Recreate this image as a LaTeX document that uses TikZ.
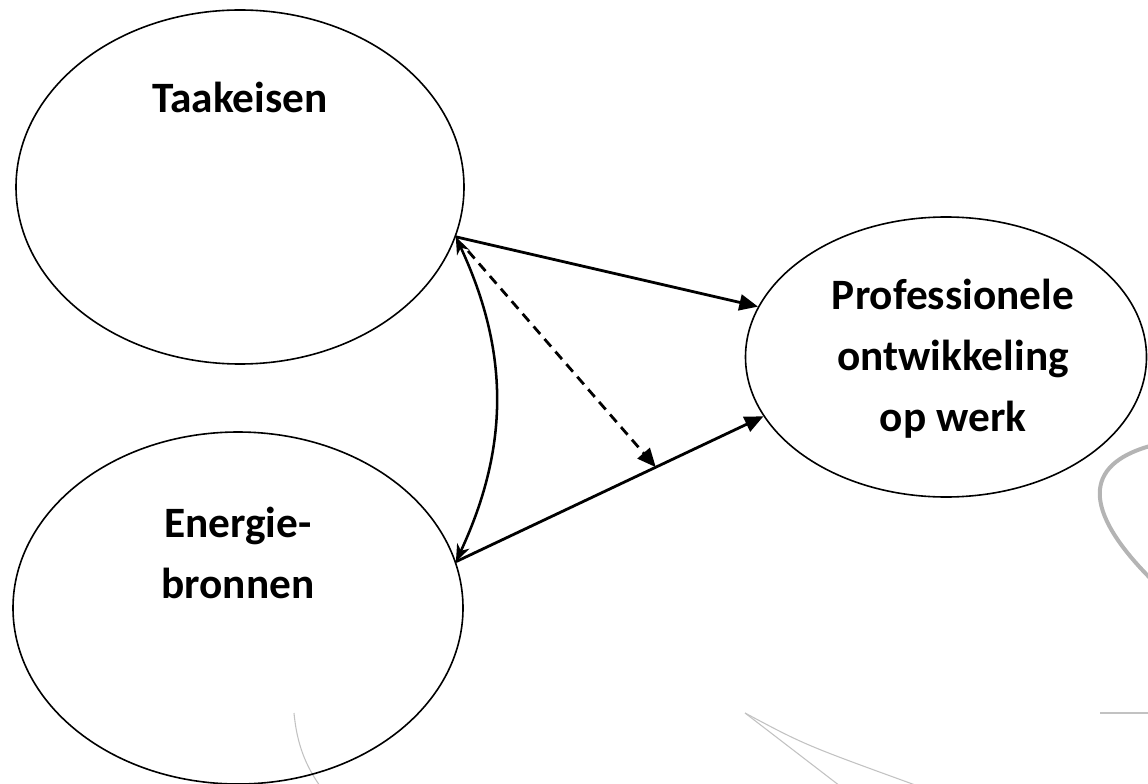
\documentclass[tikz,border=0pt]{standalone}
\usepackage{fontspec}
\setmainfont{Carlito}
\usepackage{xcolor}
\usepackage{tikz}
\usetikzlibrary{calc,arrows.meta,shapes.geometric}
\definecolor{ink}{HTML}{000000}
\definecolor{ghost}{HTML}{B4B4B4}
\definecolor{ghostthin}{HTML}{C2C2C2}
\tikzset{
  blob/.style={ellipse, draw=ink, line width=1.2pt, inner sep=0pt},
  lab/.style={text=ink, font=\fontsize{32.5}{45.5}\selectfont\bfseries, align=center, inner sep=0pt},
  effect/.style={draw=ink, line width=2.1pt, -{Triangle[length=14pt,width=12pt]}},
  mod/.style={effect, dash pattern=on 7.5pt off 5pt},
  cov/.style={draw=ink, line width=1.9pt, {Stealth[length=13pt,width=10pt,inset=4pt]}-{Stealth[length=13pt,width=10pt,inset=4pt]}},
  wm/.style={draw=ghost, line width=3pt},
  wmthin/.style={draw=ghostthin, line width=0.8pt},
}

\begin{document}
\begin{tikzpicture}[x=0.75pt,y=-0.75pt]
\useasboundingbox (0,0) rectangle (1148,784);
\draw[wm] (1150,446) .. controls (1083,465) and (1083,510) .. (1150,578);
\draw[wmthin] (294,713) .. controls (297,745) and (306,766) .. (320,786);
\draw[wmthin] (745,713) -- (840,786);
\draw[wmthin] (745,713) .. controls (805,745) .. (918,786);
\draw[wmthin] (1100,713) -- (1150,713);

\node[blob, minimum width=336pt, minimum height=265.5pt] (taak) at (240,187) {};
\node[blob, minimum width=337.5pt, minimum height=264pt] (energie) at (238,608) {};
\node[blob, minimum width=300.75pt, minimum height=210pt] (prof) at (946,357) {};

\node[lab, anchor=base] (taaklab) at (240,113) {Taakeisen};
\node[lab, anchor=base] (energielab) at (238,598) {Energie-\\bronnen};
\node[lab, anchor=base] (proflab) at (953,431) {Professionele\\ontwikkeling\\op werk};

\coordinate (onpath) at ($(energie.12)!0.65!(prof.-162)$);
\draw[effect] (taak.-13) -- (prof.165);
\draw[effect] (energie.12) -- (prof.-162);
\draw[mod, shorten <=14pt] (taak.-13) -- (onpath);
\draw[cov] (taak.-13) to[bend left=25] (energie.12);
\end{tikzpicture}
\end{document}
